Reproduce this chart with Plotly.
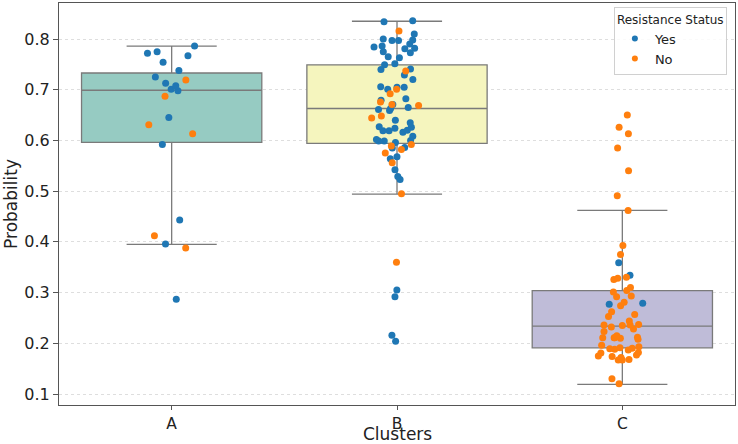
import plotly.graph_objects as go

# ---- data ----
clusters = ["A", "B", "C"]

a_yes = [0.786, 0.772, 0.775, 0.767, 0.754, 0.738, 0.725, 0.713, 0.708, 0.701,
         0.698, 0.645, 0.592, 0.443, 0.396, 0.287]
a_no = [0.719, 0.687, 0.631, 0.613, 0.412, 0.388]

b_yes = [0.834, 0.836, 0.810, 0.800, 0.797, 0.790, 0.797, 0.798, 0.786, 0.784,
         0.781, 0.782, 0.773, 0.775, 0.765, 0.763, 0.751, 0.749, 0.741, 0.740,
         0.729, 0.720, 0.705, 0.701, 0.705, 0.706, 0.682, 0.679, 0.665, 0.671,
         0.663, 0.661, 0.659, 0.640, 0.635, 0.627, 0.626, 0.624, 0.619, 0.620,
         0.616, 0.619, 0.608, 0.602, 0.599, 0.599, 0.600, 0.596, 0.585, 0.586,
         0.568, 0.564, 0.542, 0.529, 0.523, 0.305, 0.292, 0.216, 0.204]
b_no = [0.816, 0.737, 0.701, 0.692, 0.676, 0.669, 0.671, 0.644, 0.648, 0.592,
        0.589, 0.582, 0.575, 0.556, 0.495, 0.360]

c_yes = [0.359, 0.334, 0.277, 0.279]
c_no = [0.650, 0.626, 0.613, 0.585, 0.540, 0.491, 0.462, 0.393, 0.375, 0.328,
        0.326, 0.330, 0.310, 0.304, 0.301, 0.292, 0.293, 0.281, 0.274, 0.262,
        0.257, 0.253, 0.244, 0.236, 0.237, 0.232, 0.235, 0.236, 0.228, 0.223,
        0.210, 0.211, 0.211, 0.212, 0.215, 0.208, 0.211, 0.196, 0.193, 0.190,
        0.191, 0.187, 0.182, 0.189, 0.188, 0.181, 0.177, 0.174, 0.172, 0.175,
        0.167, 0.167, 0.168, 0.130, 0.120]

# box statistics
box_q1 = [0.596, 0.594, 0.191]
box_median = [0.699, 0.663, 0.234]
box_q3 = [0.733, 0.749, 0.304]
box_low = [0.395, 0.494, 0.119]
box_high = [0.786, 0.835, 0.462]

y_ticks = [0.1, 0.2, 0.3, 0.4, 0.5, 0.6, 0.7, 0.8]
y_ticktext = ["0.1", "0.2", "0.3", "0.4", "0.5", "0.6", "0.7", "0.8"]

box_fill = ["#96cbc2", "#f5f5be", "#bfbcd8"]
yes_color = "#1f77b4"
no_color = "#ff7f0e"

fig = go.Figure()

# boxes
for i, c in enumerate(clusters):
    fig.add_trace(go.Box(
        x=[c], q1=[box_q1[i]], median=[box_median[i]], q3=[box_q3[i]],
        lowerfence=[box_low[i]], upperfence=[box_high[i]],
        fillcolor=box_fill[i], line=dict(color="#7a7a7a", width=1.3),
        width=0.8, boxpoints=False, showlegend=False, whiskerwidth=0.5,
        hoverinfo="skip",
    ))

# strip points (jittered by plotly)
groups = [("Yes", yes_color, [a_yes, b_yes, c_yes]),
          ("No", no_color, [a_no, b_no, c_no])]
for name, color, vals in groups:
    xs, ys = [], []
    for c, v in zip(clusters, vals):
        xs += [c] * len(v)
        ys += v
    fig.add_trace(go.Box(
        x=xs, y=ys, name=name, boxpoints="all", jitter=1, pointpos=0,
        width=0.24, fillcolor="rgba(0,0,0,0)",
        line=dict(width=0, color="rgba(0,0,0,0)"),
        marker=dict(color=color, size=7),
        showlegend=False, hoveron="points",
    ))
    fig.add_trace(go.Scatter(
        x=[None], y=[None], mode="markers", name=name,
        marker=dict(color=color, size=6),
    ))

fig.update_layout(
    width=738, height=444,
    margin=dict(l=59, r=3, t=3, b=39),
    plot_bgcolor="white", paper_bgcolor="white",
    boxmode="overlay",
    font=dict(family="DejaVu Sans", size=16, color="#222222"),
    legend=dict(
        title=dict(text="Resistance Status", font=dict(size=12)),
        font=dict(size=13), x=0.988, y=0.99, xanchor="right", yanchor="top",
        bordercolor="#d0d0d0", borderwidth=1, bgcolor="rgba(255,255,255,0.85)",
        itemwidth=30, tracegroupgap=0,
    ),
    annotations=[
        dict(text="Clusters", xref="paper", yref="paper", x=0.5, y=0,
             xanchor="center", yanchor="bottom", yshift=-41, showarrow=False,
             font=dict(size=17)),
    ],
)
fig.update_xaxes(
    type="category", categoryorder="array", categoryarray=clusters,
    range=[-0.5, 2.5], showgrid=False, showline=True, mirror=True,
    linecolor="#555555", linewidth=1, ticks="outside", ticklen=4,
    tickcolor="#555555", zeroline=False, automargin=False,
    tickfont=dict(size=15.5),
)
fig.update_yaxes(
    range=[0.0783, 0.871], tickvals=y_ticks, ticktext=y_ticktext,
    showgrid=True, gridcolor="#dedede", griddash="dot", gridwidth=1,
    showline=True, mirror=True, linecolor="#555555", linewidth=1,
    ticks="outside", ticklen=5, tickcolor="#555555", zeroline=False,
    automargin=False,
    title=dict(text="Probability", standoff=2, font=dict(size=17)),
)

fig.write_html("out.html", config={"displayModeBar": False},
               post_script="document.body.style.margin='0';")
